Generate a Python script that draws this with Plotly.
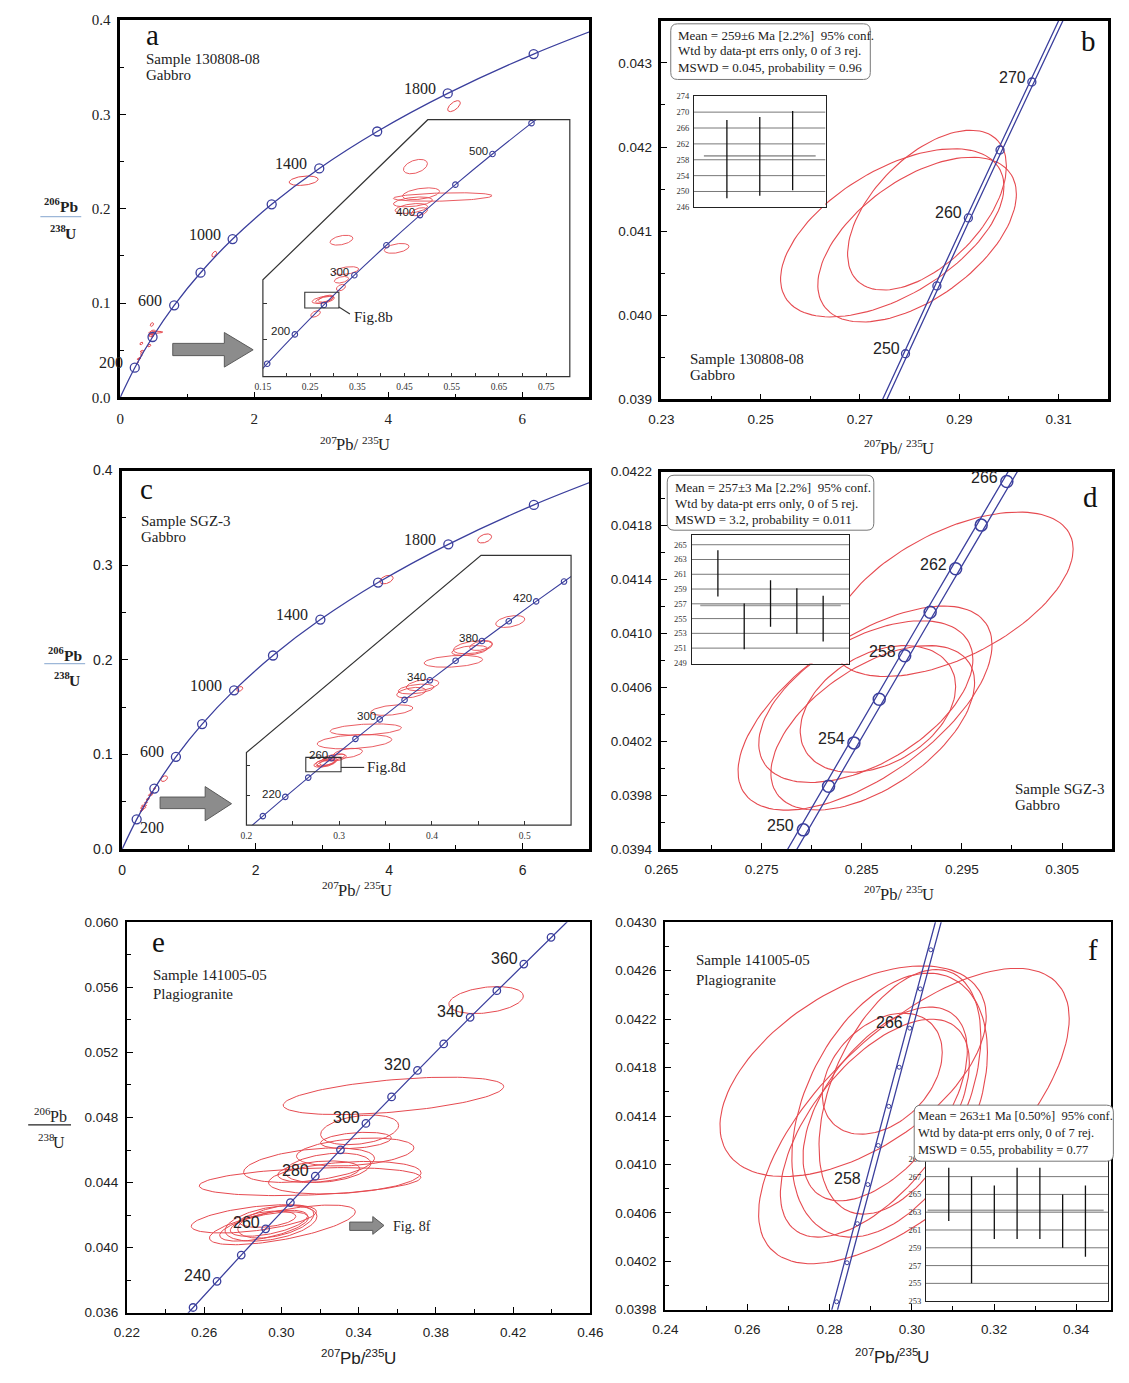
import numpy as np
import plotly.graph_objects as go

W, H = 1129, 1383
def fx(p): return p / W
def fy(p): return 1 - p / H

BLUE = "#3b3f9d"
RED = "#e64a50"
SERIF = "Liberation Serif"
SANS = "Liberation Sans"

# ---------------- concordia reference points (age Ma, 207Pb/235U, 206Pb/238U) ----------------
wide_age = [0, 200, 400, 600, 800, 1000, 1200, 1400, 1600, 1800, 2000, 2200]
wide_x = [0.0, 0.21770, 0.48281, 0.80563, 1.19873, 1.67741, 2.26030, 2.97009, 3.83441, 4.88690, 6.16852, 7.72916]
wide_y = [0.0, 0.031511, 0.064016, 0.097544, 0.132131, 0.167804, 0.204608, 0.242561, 0.281716, 0.322104, 0.363766, 0.406741]
wide_marks = [200, 400, 600, 800, 1000, 1200, 1400, 1600, 1800, 2000]

insa_age = [100, 150, 200, 250, 300, 350, 400, 450, 500, 550, 600]
insa_x = [0.10350, 0.15920, 0.21770, 0.27917, 0.34374, 0.41156, 0.48281, 0.55766, 0.63628, 0.71887, 0.80563]
insa_y = [0.015633, 0.023542, 0.031511, 0.039543, 0.047637, 0.055794, 0.064016, 0.072300, 0.080650, 0.089064, 0.097544]
insa_marks = [150, 200, 250, 300, 350, 400, 450, 500, 550]

insc_age = [180, 200, 220, 240, 260, 280, 300, 320, 340, 360, 380, 400, 420, 440, 460]
insc_x = [0.19396, 0.21770, 0.24191, 0.26664, 0.29183, 0.31753, 0.34374, 0.37047, 0.39773, 0.42553, 0.45389, 0.48281, 0.51231, 0.54240, 0.57307]
insc_y = [0.028316, 0.031511, 0.034717, 0.037932, 0.041157, 0.044392, 0.047637, 0.050892, 0.054158, 0.057434, 0.060719, 0.064016, 0.067322, 0.070638, 0.073965]
insc_marks = [200, 220, 240, 260, 280, 300, 320, 340, 360, 380, 400, 420, 440]

cb_age = [240, 245, 250, 255, 260, 265, 270, 275, 280]
cb_x = [0.26664, 0.27289, 0.27917, 0.28549, 0.29183, 0.29821, 0.30462, 0.31106, 0.31753]
cb_y = [0.037932, 0.038737, 0.039543, 0.040349, 0.041157, 0.041965, 0.042773, 0.043582, 0.044392]
cb_marks = [250, 255, 260, 265, 270]

cd_age = [246, 248, 250, 252, 254, 256, 258, 260, 262, 264, 266, 268, 270, 272]
cd_x = [0.27414, 0.27666, 0.27917, 0.28169, 0.28422, 0.28675, 0.28929, 0.29183, 0.29438, 0.29693, 0.29949, 0.30205, 0.30462, 0.30719]
cd_y = [0.038898, 0.039221, 0.039543, 0.039866, 0.040188, 0.040511, 0.040834, 0.041157, 0.041480, 0.041803, 0.042126, 0.042450, 0.042773, 0.043097]
cd_marks = [250, 252, 254, 256, 258, 260, 262, 264, 266]
cf_marks = [252, 254, 256, 258, 260, 262, 264, 266, 268, 270]

ce_age = [220, 230, 240, 250, 260, 270, 280, 290, 300, 310, 320, 330, 340, 350, 360, 370, 380]
ce_x = [0.24191, 0.25422, 0.26664, 0.27917, 0.29183, 0.30462, 0.31753, 0.33057, 0.34374, 0.35704, 0.37047, 0.38403, 0.39773, 0.41156, 0.42553, 0.43964, 0.45389]
ce_y = [0.034717, 0.036323, 0.037932, 0.039543, 0.041157, 0.042773, 0.044392, 0.046013, 0.047637, 0.049264, 0.050892, 0.052524, 0.054158, 0.055794, 0.057434, 0.059075, 0.060719]
ce_marks = [230, 240, 250, 260, 270, 280, 290, 300, 310, 320, 330, 340, 350, 360, 370]

# ---------------- error ellipses (centre, half-widths, correlation) ----------------
# sample 130808-08 (Fig b, also in inset a)
b_cx = [0.2765, 0.2815, 0.2835]
b_cy = [0.04098, 0.04090, 0.04125]
b_sx = [0.0225, 0.0200, 0.0160]
b_sy = [0.00100, 0.00098, 0.00095]
b_rho = [0.55, 0.55, 0.55]

ia_cx = [0.2615, 0.3152, 0.3164, 0.3267, 0.3164, 0.4333, 0.4731, 0.4849, 0.5308, 0.4677, 0.4642, 0.4814]
ia_cy = [0.0371, 0.04426, 0.04640, 0.04889, 0.05718, 0.05495, 0.07723, 0.06983, 0.06894, 0.06761, 0.06582, 0.06493]
ia_sx = [0.0103, 0.0096, 0.0151, 0.0261, 0.0241, 0.0261, 0.0254, 0.0392, 0.1045, 0.0412, 0.0344, 0.0170]
ia_sy = [0.00089, 0.00089, 0.00089, 0.00107, 0.00134, 0.00134, 0.00196, 0.00160, 0.00116, 0.00134, 0.00134, 0.00110]
ia_rho = [0.5, 0.4, 0.4, 0.4, 0.4, 0.4, 0.4, 0.4, 0.3, 0.4, 0.4, 0.4]

ma_cx = [1.403, 2.737, 4.98]
ma_cy = [0.1518, 0.2296, 0.3086]
ma_sx = [0.036, 0.216, 0.094]
ma_sy = [0.0030, 0.0050, 0.0058]
ma_rho = [0.5, 0.3, 0.6]

# sample SGZ-3 (Fig d, also in inset c)
d_cx = [0.29404, 0.28533, 0.28541, 0.28610, 0.28662]
d_cy = [0.04129, 0.040446, 0.040494, 0.04030, 0.04044]
d_sx = [0.01207, 0.01268, 0.01069, 0.01017, 0.00776]
d_sy = [0.00061, 0.000757, 0.00060, 0.00061, 0.00047]
d_rho = [0.55, 0.62, 0.52, 0.55, 0.35]

ic_cx = [0.4844, 0.4441, 0.4529, 0.4406, 0.4231, 0.3899, 0.3777, 0.3829, 0.3567, 0.3287, 0.3165, 0.3094, 0.2990, 0.63]
ic_cy = [0.06397, 0.05968, 0.05996, 0.05914, 0.05733, 0.05337, 0.0521, 0.0527, 0.04919, 0.04595, 0.04392, 0.0420, 0.04128, 0.0745]
ic_sx = [0.0157, 0.0210, 0.0122, 0.0192, 0.0315, 0.0175, 0.0157, 0.0192, 0.0227, 0.0385, 0.0402, 0.0157, 0.0087, 0.05]
ic_sy = [0.00099, 0.0011, 0.00082, 0.00082, 0.00099, 0.00094, 0.00088, 0.00082, 0.00088, 0.00094, 0.0012, 0.00082, 0.00055, 0.003]
ic_rho = [0.4, 0.4, 0.4, 0.4, 0.3, 0.4, 0.4, 0.4, 0.4, 0.3, 0.3, 0.4, 0.4, 0.4]

mc_cx = [1.762, 3.96, 5.43]
mc_cy = [0.1692, 0.2848, 0.3283]
mc_sx = [0.045, 0.100, 0.105]
mc_sy = [0.0026, 0.0045, 0.0048]
mc_rho = [0.4, 0.4, 0.4]

# sample 141005-05 (Fig f, also in e)
f_cx = [0.2857, 0.3005, 0.2946, 0.2971, 0.2928, 0.2935, 0.2910]
f_cy = [0.04177, 0.04140, 0.04149, 0.04160, 0.04175, 0.04150, 0.04130]
f_sx = [0.0324, 0.0378, 0.0238, 0.0197, 0.0146, 0.0200, 0.0230]
f_sy = [0.00087, 0.00122, 0.00109, 0.00101, 0.00050, 0.00080, 0.00090]
f_rho = [0.52, 0.66, 0.40, 0.45, 0.35, 0.55, 0.60]

e_cx = [0.4060, 0.3580, 0.3405, 0.3386, 0.3382, 0.3143, 0.3148, 0.3328, 0.3193, 0.3241]
e_cy = [0.05522, 0.04933, 0.04724, 0.04659, 0.04588, 0.04507, 0.04406, 0.0443, 0.04467, 0.04491]
e_sx = [0.0193, 0.0571, 0.0202, 0.0183, 0.0304, 0.0339, 0.0574, 0.0395, 0.0212, 0.0222]
e_sy = [0.00083, 0.00115, 0.00091, 0.0005, 0.00086, 0.00106, 0.00086, 0.0010, 0.00066, 0.0009]
e_rho = [0.3, 0.5, 0.3, 0.3, 0.3, 0.4, 0.3, 0.3, 0.3, 0.3]

# ---------------- weighted-mean age plots ----------------
mb_lo = [248.3, 248.9, 250.3]
mb_hi = [268.0, 268.8, 270.3]
mb_mean = 259
md_lo = [258.0, 250.85, 253.9, 252.95, 251.9]
md_hi = [264.24, 257.05, 260.2, 259.1, 258.1]
md_mean = 256.8
mf_lo = [262.0, 255.0, 260.0, 260.0, 260.0, 259.0, 258.0]
mf_hi = [268.0, 267.0, 266.0, 268.0, 268.0, 265.0, 266.0]
mf_mean = 263.2

fig = go.Figure()
ann = []
shapes = []

def ax_ids(i):
    s = '' if i == 1 else str(i)
    return 'x' + s, 'y' + s

def ell_trace(i, cx, cy, sx, sy, rho, w=1.0):
    xa, ya = ax_ids(i)
    t = np.linspace(0, 2 * np.pi, 120)
    xs, ys = [], []
    for a, b, c, d, r in zip(cx, cy, sx, sy, rho):
        xs.extend((a + c * np.cos(t)).tolist()); xs.append(None)
        ys.extend((b + d * (r * np.cos(t) + np.sqrt(1 - r * r) * np.sin(t))).tolist()); ys.append(None)
    fig.add_trace(go.Scatter(x=xs, y=ys, mode='lines', line=dict(color=RED, width=w),
                             xaxis=xa, yaxis=ya, hoverinfo='skip', showlegend=False))

def conc_trace(i, xs, ys, ages, marks, msize, band=0.0, shape='linear', lw=1.3, mlw=1.3):
    xa, ya = ax_ids(i)
    offs = (-band, band) if band else (0.0,)
    for s in offs:
        fig.add_trace(go.Scatter(x=[v + s for v in xs], y=ys, mode='lines',
                                 line=dict(color=BLUE, width=lw, shape=shape),
                                 xaxis=xa, yaxis=ya, hoverinfo='skip', showlegend=False))
    mx = [x for x, a in zip(xs, ages) if a in marks]
    my = [y for y, a in zip(ys, ages) if a in marks]
    fig.add_trace(go.Scatter(x=mx, y=my, mode='markers',
                             marker=dict(symbol='circle-open', size=msize, color=BLUE,
                                         line=dict(width=mlw, color=BLUE)),
                             xaxis=xa, yaxis=ya, hoverinfo='skip', showlegend=False))

def age_labels(i, xs, ys, ages, labels, family, size, xshift, yshift, anchor='right'):
    xa, ya = ax_ids(i)
    for x, y, a in zip(xs, ys, ages):
        if a in labels:
            ann.append(dict(x=x, y=y, xref=xa, yref=ya, text=str(a), showarrow=False,
                            xanchor=anchor, yanchor='middle', xshift=xshift, yshift=yshift,
                            font=dict(family=family, size=size, color='#222')))

def txt(x, y, s, size, family=SERIF, anchor='left', color='#222', weight='normal'):
    ann.append(dict(x=fx(x), y=fy(y), xref='paper', yref='paper', text=s, showarrow=False,
                    xanchor=anchor, yanchor='middle',
                    font=dict(family=family, size=size, color=color, weight=weight)))

# glyph advance widths (em) of the metric-compatible Liberation fonts
EM = {
    ('serif', 'normal'): {'d': 0.5, 'P': 0.556, 'b': 0.5, '/': 0.278, 'U': 0.722, ' ': 0.25},
    ('serif', 'bold'): {'d': 0.5, 'P': 0.611, 'b': 0.556, '/': 0.278, 'U': 0.722, ' ': 0.25},
    ('sans', 'normal'): {'d': 0.556, 'P': 0.667, 'b': 0.556, '/': 0.278, 'U': 0.722, ' ': 0.278},
}

def text_w(s, size, kind, weight):
    tab = EM[(kind, weight)]
    return sum(tab['d'] if ch.isdigit() else tab[ch] for ch in s) * size

def sup_title(cx, cy, parts, size, kind='serif', weight='normal'):
    """parts: list of (text, is_superscript); centred at pixel (cx, cy)."""
    family = SERIF if kind == 'serif' else SANS
    ssize = round(size * 0.68, 1)
    widths = [text_w(t, ssize if sp else size, kind, weight) for t, sp in parts]
    x = cx - sum(widths) / 2
    for (t, sp), w in zip(parts, widths):
        txt(x - 1, cy - (size * 0.33 if sp else 0), t, ssize if sp else size, family=family, weight=weight)
        x += w

def poly(pts):
    return "M " + " L ".join(f"{fx(x):.5f},{fy(y):.5f}" for x, y in pts) + " Z"

def rrect(x0, y0, x1, y1, r):
    X = lambda v: f"{fx(v):.5f}"
    Y = lambda v: f"{fy(v):.5f}"
    return (f"M {X(x0 + r)},{Y(y0)} L {X(x1 - r)},{Y(y0)} Q {X(x1)},{Y(y0)} {X(x1)},{Y(y0 + r)} "
            f"L {X(x1)},{Y(y1 - r)} Q {X(x1)},{Y(y1)} {X(x1 - r)},{Y(y1)} L {X(x0 + r)},{Y(y1)} "
            f"Q {X(x0)},{Y(y1)} {X(x0)},{Y(y1 - r)} L {X(x0)},{Y(y0 + r)} Q {X(x0)},{Y(y0)} {X(x0 + r)},{Y(y0)} Z")

def arrow(x0, hx, tip, sy0, sy1, hy0, hy1):
    ty = (hy0 + hy1) / 2
    shapes.append(dict(type='path', xref='paper', yref='paper',
                       path=poly([(x0, sy0), (hx, sy0), (hx, hy0), (tip, ty), (hx, hy1), (hx, sy1), (x0, sy1)]),
                       fillcolor='#8c8c8c', line=dict(color='#5a5a5a', width=1)))

def mean_plot(i, lo, hi, mean, yr, grid, mx0, mx1):
    xa, ya = ax_ids(i)
    n = len(lo)
    xr = [0, n + 1]
    fig.add_trace(go.Scatter(x=[xr[0], xr[1], xr[1], xr[0], xr[0]], y=[yr[0], yr[0], yr[1], yr[1], yr[0]],
                             fill='toself', fillcolor='white', mode='lines', line=dict(width=0),
                             xaxis=xa, yaxis=ya, hoverinfo='skip', showlegend=False))
    gx, gy = [], []
    for g in grid:
        gx += [xr[0], xr[1], None]; gy += [g, g, None]
    fig.add_trace(go.Scatter(x=gx, y=gy, mode='lines', line=dict(color='#555', width=0.8),
                             xaxis=xa, yaxis=ya, hoverinfo='skip', showlegend=False))
    fig.add_trace(go.Scatter(x=[mx0, mx1], y=[mean, mean], mode='lines', line=dict(color='#a0a0a0', width=1.8),
                             xaxis=xa, yaxis=ya, hoverinfo='skip', showlegend=False))
    bx, by = [], []
    for k, (l, h) in enumerate(zip(lo, hi)):
        bx += [k + 1, k + 1, None]; by += [l, h, None]
    fig.add_trace(go.Scatter(x=bx, y=by, mode='lines', line=dict(color='#111', width=1.3),
                             xaxis=xa, yaxis=ya, hoverinfo='skip', showlegend=False))

# ---------------- Panel a ----------------
ell_trace(1, b_cx + ia_cx + ma_cx, b_cy + ia_cy + ma_cy, b_sx + ia_sx + ma_sx, b_sy + ia_sy + ma_sy, b_rho + ia_rho + ma_rho)
conc_trace(1, wide_x, wide_y, wide_age, wide_marks, 9, shape='spline')
age_labels(1, wide_x, wide_y, wide_age, [200, 600, 1000, 1400, 1800], SERIF, 16, -10, 5)
# inset a
ell_trace(7, b_cx + ia_cx, b_cy + ia_cy, b_sx + ia_sx, b_sy + ia_sy, b_rho + ia_rho, w=0.9)
conc_trace(7, insa_x, insa_y, insa_age, insa_marks, 5.5, shape='spline', lw=1.1, mlw=1.1)
age_labels(7, insa_x, insa_y, insa_age, [200, 300, 400, 500], SANS, 11.5, -3, 3)

# ---------------- Panel b ----------------
ell_trace(2, b_cx, b_cy, b_sx, b_sy, b_rho, w=1.1)
conc_trace(2, cb_x, cb_y, cb_age, cb_marks, 8, band=0.00043)
age_labels(2, cb_x, cb_y, cb_age, [250, 260, 270], SANS, 16, -4, 5)
mean_plot(9, mb_lo, mb_hi, mb_mean, [246, 274], [250, 254, 258, 262, 266, 270], 0.3, 3.7)

# ---------------- Panel c ----------------
ell_trace(3, d_cx + ic_cx + mc_cx, d_cy + ic_cy + mc_cy, d_sx + ic_sx + mc_sx, d_sy + ic_sy + mc_sy, d_rho + ic_rho + mc_rho)
conc_trace(3, wide_x, wide_y, wide_age, wide_marks, 9, shape='spline')
age_labels(3, wide_x, wide_y, wide_age, [600, 1000, 1400, 1800], SERIF, 16, -10, 5)
age_labels(3, wide_x, wide_y, wide_age, [200], SERIF, 16, 1, -8, anchor='left')
# inset c
ell_trace(8, d_cx + ic_cx, d_cy + ic_cy, d_sx + ic_sx, d_sy + ic_sy, d_rho + ic_rho, w=0.9)
conc_trace(8, insc_x, insc_y, insc_age, insc_marks, 5.5, shape='spline', lw=1.1, mlw=1.1)
age_labels(8, insc_x, insc_y, insc_age, [220, 260, 300, 340, 380, 420], SANS, 11.5, -2, 3)

# ---------------- Panel d ----------------
ell_trace(4, d_cx, d_cy, d_sx, d_sy, d_rho, w=1.1)
conc_trace(4, cd_x, cd_y, cd_age, cd_marks, 12, band=0.00046, mlw=1.5)
age_labels(4, cd_x, cd_y, cd_age, [250, 254, 258, 262, 266], SANS, 16, -7, 4)
mean_plot(10, md_lo, md_hi, md_mean, [248.9, 266.3], [251, 253, 255, 257, 259, 261, 263, 265], 0.33, 5.67)

# ---------------- Panel e ----------------
ell_trace(5, f_cx + e_cx, f_cy + e_cy, f_sx + e_sx, f_sy + e_sy, f_rho + e_rho)
conc_trace(5, ce_x, ce_y, ce_age, ce_marks, 7.5)
age_labels(5, ce_x, ce_y, ce_age, [240, 260, 280, 300, 320, 340, 360], SANS, 16, -4, 6)

# ---------------- Panel f ----------------
ell_trace(6, f_cx, f_cy, f_sx, f_sy, f_rho, w=1.1)
conc_trace(6, cd_x, cd_y, cd_age, cf_marks, 4, band=0.0007, mlw=1)
age_labels(6, cd_x, cd_y, cd_age, [258, 266], SANS, 16, -5, 6)
mean_plot(11, mf_lo, mf_hi, mf_mean, [253, 271], [255, 257, 259, 261, 263, 265, 267, 269], 0.07, 7.8)

# ---------------- axes ----------------
layout_axes = {}

def frame_axes(i, xpx, ypx, xr, yr, xdt, ydt, xfmt, yfmt, family, fsize, lw=2.5):
    s = '' if i == 1 else str(i)
    ex = (xr[1] - xr[0]) * 1e-6
    ey = (yr[1] - yr[0]) * 1e-6
    common = dict(showline=True, mirror=True, linecolor='black', linewidth=lw,
                  ticks='inside', ticklen=6, tickwidth=1.4, tickcolor='black',
                  showgrid=False, zeroline=False,
                  tickfont=dict(family=family, size=fsize, color='#222'))
    layout_axes['xaxis' + s] = dict(common, domain=[fx(xpx[0]), fx(xpx[1])], range=[xr[0] - ex, xr[1] + ex],
                                    anchor='y' + s, tick0=xr[0], dtick=xdt, tickformat=xfmt,
                                    ticklabelstandoff=6,
                                    minor=dict(ticks='inside', ticklen=4, tickwidth=1.2, tickcolor='black',
                                               dtick=xdt / 2, tick0=xr[0]))
    layout_axes['yaxis' + s] = dict(common, domain=[fy(ypx[1]), fy(ypx[0])], range=[yr[0] - ey, yr[1] + ey],
                                    anchor='x' + s, tick0=yr[0], dtick=ydt, tickformat=yfmt,
                                    ticklabelstandoff=4,
                                    minor=dict(ticks='inside', ticklen=4, tickwidth=1.2, tickcolor='black',
                                               dtick=ydt / 2, tick0=yr[0]))

frame_axes(1, (106, 588), (12, 394), [0, 7], [0, 0.4], 2, 0.1, 'd', '.1f', SERIF, 15)
frame_axes(2, (662, 1121), (13, 396), [0.23, 0.32], [0.039, 0.0435], 0.02, 0.001, '.2f', '.3f', SANS, 13.5)
frame_axes(3, (108, 588), (468, 851), [0, 7], [0, 0.4], 2, 0.1, 'd', '.1f', SANS, 14)
frame_axes(4, (662, 1125), (469, 851), [0.265, 0.31], [0.0394, 0.0422], 0.01, 0.0004, '.3f', '.4f', SANS, 13.5)
frame_axes(5, (113, 589), (925, 1320), [0.22, 0.46], [0.036, 0.060], 0.04, 0.004, '.2f', '.3f', SANS, 13.5, lw=2)
frame_axes(6, (666, 1124), (925, 1317), [0.24, 0.3485], [0.0398, 0.0430], 0.02, 0.0004, '.2f', '.4f', SANS, 13.5, lw=2)
layout_axes['yaxis2']['range'] = [0.039 - 1e-9, 0.0435]

def inset_axes(i, xpx, ypx, xr, yr, xtv, xminor, ytv):
    s = str(i)
    layout_axes['xaxis' + s] = dict(domain=[fx(xpx[0]), fx(xpx[1])], range=xr, anchor='y' + s,
                                    showline=False, showgrid=False, zeroline=False,
                                    ticks='inside', ticklen=4, tickwidth=1, tickcolor='#333',
                                    tickvals=xtv, ticktext=[f'{v:g}' for v in xtv], ticklabelstandoff=3,
                                    tickfont=dict(family=SERIF, size=9.5, color='#333'),
                                    minor=dict(ticks='inside', ticklen=4, tickwidth=1, tickcolor='#333',
                                               tickvals=xminor))
    layout_axes['yaxis' + s] = dict(domain=[fy(ypx[1]), fy(ypx[0])], range=yr, anchor='x' + s,
                                    showline=False, showgrid=False, zeroline=False,
                                    ticks='inside', ticklen=4, tickwidth=1, tickcolor='#333',
                                    tickvals=ytv, showticklabels=False)

inset_axes(7, (252.6, 567.9), (113, 373), [0.15, 0.8], [0.02, 0.09],
           [0.15, 0.25, 0.35, 0.45, 0.55, 0.65, 0.75], [0.2, 0.3, 0.4, 0.5, 0.6, 0.7], [0.03, 0.04])
inset_axes(8, (235.7, 569.2), (553.8, 826.7), [0.2, 0.55], [0.03, 0.075],
           [0.2, 0.3, 0.4, 0.5], [0.25, 0.35, 0.45], [0.035, 0.04])

def mean_axes(i, xpx, ypx, n, yr, ytv):
    s = str(i)
    layout_axes['xaxis' + s] = dict(domain=[fx(xpx[0]), fx(xpx[1])], range=[0, n + 1], anchor='y' + s,
                                    showline=True, mirror=True, linecolor='#222', linewidth=1.3,
                                    showgrid=False, zeroline=False, ticks='', showticklabels=False)
    layout_axes['yaxis' + s] = dict(domain=[fy(ypx[1]), fy(ypx[0])], range=yr, anchor='x' + s,
                                    showline=True, mirror=True, linecolor='#222', linewidth=1.3,
                                    showgrid=False, zeroline=False, ticks='', tickvals=ytv,
                                    ticklabelstandoff=2,
                                    tickfont=dict(family=SERIF, size=8.5, color='#333'))

mean_axes(9, (695.5, 830.6), (89.3, 201.7), 3, [246, 274], list(range(246, 275, 4)))
mean_axes(10, (693, 855.2), (533.3, 663.3), 5, [248.9, 266.3], list(range(249, 266, 2)))
mean_axes(11, (933.8, 1121), (1146.3, 1308.3), 7, [253, 271], list(range(253, 270, 2)))

# ---------------- decorations ----------------
# inset outlines
shapes.append(dict(type='path', xref='paper', yref='paper', line=dict(color='#333', width=1.2),
                   path=poly([(252.6, 373), (252.6, 275), (422, 113), (567.9, 113), (567.9, 373)])))
shapes.append(dict(type='path', xref='paper', yref='paper', line=dict(color='#333', width=1.2),
                   path=poly([(235.7, 826.7), (235.7, 753.3), (476.7, 553.8), (569.2, 553.8), (569.2, 826.7)])))
# Fig.8b / Fig.8d boxes and leaders
shapes.append(dict(type='rect', xref='x7', yref='y7', x0=0.2387, x1=0.311, y0=0.0387, y1=0.0430,
                   line=dict(color='#333', width=1.1)))
shapes.append(dict(type='line', xref='paper', yref='paper', x0=fx(330.7), y0=fy(302.5), x1=fx(342), y1=fy(309.5),
                   line=dict(color='#333', width=1.1)))
shapes.append(dict(type='rect', xref='x8', yref='y8', x0=0.264, x1=0.302, y0=0.0389, y1=0.0413,
                   line=dict(color='#333', width=1.1)))
shapes.append(dict(type='line', xref='paper', yref='paper', x0=fx(332.7), y0=fy(768.3), x1=fx(356.7), y1=fy(768.3),
                   line=dict(color='#333', width=1.1)))
txt(344, 313, 'Fig.8b', 15)
txt(358, 768, 'Fig.8d', 15)
# gray arrows
arrow(160, 213, 242.6, 339.3, 351.7, 328.3, 363.3)
arrow(147, 193.3, 220.4, 798.3, 810, 787.7, 822.3)
arrow(341.8, 365.5, 377, 1228.3, 1236.7, 1222.7, 1240.7)
txt(384.6, 1233, 'Fig. 8f', 14)

# stats boxes
for (x0, y0, x1, y1) in [(671.6, 16, 876.6, 72.3), (668, 472.7, 880.2, 528.3), (921.7, 1110, 1126.3, 1166.7)]:
    shapes.append(dict(type='path', xref='paper', yref='paper', layer='above', path=rrect(x0, y0, x1, y1, 7),
                       fillcolor='white', line=dict(color='#777', width=1)))
stats_b = ['Mean = 259±6 Ma [2.2%] \u00a095% conf.', 'Wtd by data-pt errs only, 0 of 3 rej.', 'MSWD = 0.045, probability = 0.96']
stats_d = ['Mean = 257±3 Ma [2.2%] \u00a095% conf.', 'Wtd by data-pt errs only, 0 of 5 rej.', 'MSWD = 3.2, probability = 0.011']
stats_f = ['Mean = 263±1 Ma [0.50%] \u00a095% conf.', 'Wtd by data-pt errs only, 0 of 7 rej.', 'MSWD = 0.55, probability = 0.77']
for lines, x, ys, sz in [(stats_b, 677, (27.7, 43.3, 60), 13), (stats_d, 674, (485, 501.7, 517.7), 13),
                         (stats_f, 924, (1121, 1138.3, 1155), 12.5)]:
    for s_, y_ in zip(lines, ys):
        txt(x, y_, s_, sz)

# panel letters
for (x, y, s_) in [(139, 27, 'a'), (1101, 33, 'b'), (133, 487, 'c'), (1103, 495, 'd'), (145, 945, 'e'), (1105, 953, 'f')]:
    txt(x, y, s_, 29, anchor='center', color='#111')

# sample names
for (x, y1, l1, l2) in [(130, 52, 'Sample 130808-08', 'Gabbro'), (689, 355, 'Sample 130808-08', 'Gabbro'),
                        (125, 519, 'Sample SGZ-3', 'Gabbro'), (1023, 790, 'Sample SGZ-3', 'Gabbro'),
                        (138, 978, 'Sample 141005-05', 'Plagiogranite'), (695, 963, 'Sample 141005-05', 'Plagiogranite')]:
    txt(x, y1, l1, 15)
    txt(x, y1 + (20 if 'Plagio' in l2 else 16), l2, 15)

# x axis titles
xt_serif = [('207', True), ('Pb/ ', False), ('235', True), ('U', False)]
xt_sans = [('207', True), ('Pb/', False), ('235', True), ('U', False)]
sup_title(346, 442, xt_serif, 16.5)
sup_title(905, 446, xt_serif, 16.5)
sup_title(348, 893, xt_serif, 16.5)
sup_title(905, 897, xt_serif, 16.5)
sup_title(350, 1366, xt_sans, 17, kind='sans')
sup_title(898, 1365, xt_sans, 17, kind='sans')

# y axis fraction titles
pb206 = [('206', True), ('Pb', False)]
u238 = [('238', True), ('U', False)]
sup_title(44, 201, pb206, 15.5, weight='bold')
sup_title(46, 228, u238, 15.5, weight='bold')
shapes.append(dict(type='line', xref='paper', yref='paper', x0=fx(24), x1=fx(66), y0=fy(211), y1=fy(211),
                   line=dict(color='#9db7d8', width=1.2)))
sup_title(48, 655, pb206, 15.5, weight='bold')
sup_title(50, 680, u238, 15.5, weight='bold')
shapes.append(dict(type='line', xref='paper', yref='paper', x0=fx(28), x1=fx(70), y0=fy(663.3), y1=fy(663.3),
                   line=dict(color='#9db7d8', width=1.2)))
sup_title(33, 1121, pb206, 16)
sup_title(34, 1148, u238, 16)
shapes.append(dict(type='line', xref='paper', yref='paper', x0=fx(11.5), x1=fx(55.5), y0=fy(1130), y1=fy(1130),
                   line=dict(color='#222', width=1.2)))

fig.update_layout(width=W, height=H, autosize=False, margin=dict(l=0, r=0, t=0, b=0),
                  paper_bgcolor='white', plot_bgcolor='rgba(0,0,0,0)', showlegend=False,
                  annotations=ann, shapes=shapes, **layout_axes)

fig.write_html("out.html", config={'displayModeBar': False},
               post_script="document.body.style.margin='0px';")
